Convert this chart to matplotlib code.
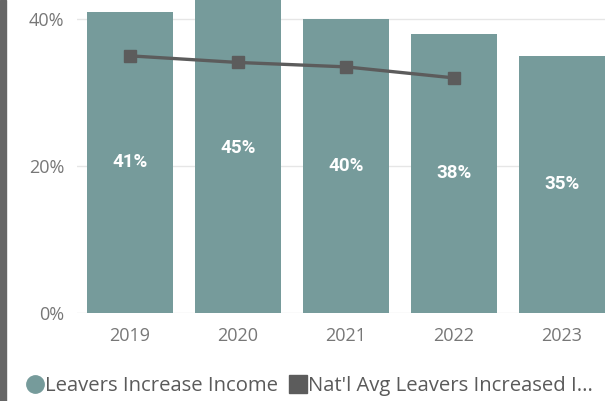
import matplotlib.pyplot as plt
from matplotlib.lines import Line2D
from matplotlib.patches import Rectangle

years = ['2019', '2020', '2021', '2022', '2023']
leavers_income = [41, 45, 40, 38, 35]
natl_avg = [35.0, 34.1, 33.5, 32.0]

bar_color = '#769b9b'
line_color = '#5c5c5c'
tick_color = '#777777'

plt.rcParams['font.family'] = ['Open Sans', 'DejaVu Sans']

fig = plt.figure(figsize=(6.05, 4.01), dpi=100)
ax = fig.add_axes([77 / 605, 88 / 401, 528 / 605, 313 / 401])

x = list(range(len(years)))
ax.bar(x, leavers_income, width=0.8, color=bar_color, zorder=2)
ax.plot(x[:len(natl_avg)], natl_avg, color=line_color, lw=2.4,
        marker='s', ms=8, zorder=3)

# value labels sit in the middle of each bar
for xi, v in zip(x, leavers_income):
    ax.text(xi, v / 2, f'{v}%', ha='center', va='center', color='white',
            fontsize=13.5, fontweight='bold', family='Roboto', zorder=4)

ax.set_xlim(-0.49, 4.4)
ax.set_ylim(0, 42.6)
ax.set_yticks([0, 20, 40])
ax.set_yticklabels(['0%', '20%', '40%'])
ax.set_xticks(x)
ax.set_xticklabels(years)
ax.tick_params(length=0, colors=tick_color, labelsize=13)
ax.tick_params(axis='y', pad=9)
ax.tick_params(axis='x', pad=10)
ax.grid(axis='y', color='#e6e6e6', lw=1, zorder=0)
for s in ax.spines.values():
    s.set_visible(False)

handles = [
    Line2D([], [], ls='none', marker='o', ms=12.5, color=bar_color),
    Line2D([], [], ls='none', marker='s', ms=12.5, color=line_color),
]
labels = ['Leavers Increase Income', "Nat'l Avg Leavers Increased I..."]
leg = fig.legend(handles, labels, loc='center left', ncol=2,
                 bbox_to_anchor=(26 / 605, 15 / 401), frameon=False,
                 fontsize=14.6, handletextpad=0.05, columnspacing=0.5,
                 handlelength=0.9, borderpad=0, borderaxespad=0)
for t in leg.get_texts():
    t.set_color('#5a5a5a')

# dark strip along the left edge
fig.add_artist(Rectangle((0, 0), 6 / 605, 1, transform=fig.transFigure,
                         color='#666666', zorder=10))

fig.savefig('out.png', dpi=100)
